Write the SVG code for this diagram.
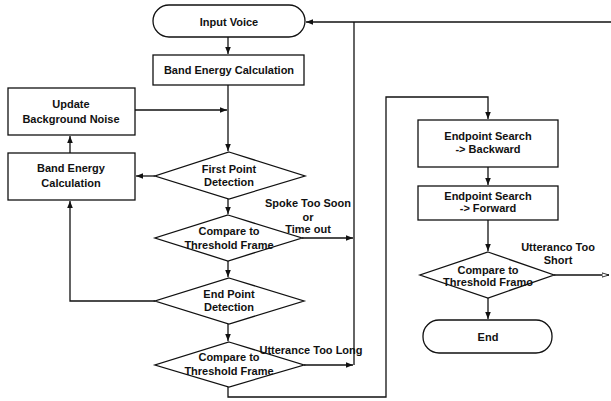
<svg xmlns="http://www.w3.org/2000/svg" width="611" height="401" viewBox="0 0 611 401">
<defs>
<style>
.s{fill:#fff;stroke:#111;stroke-width:1.3}
.c{fill:none;stroke:#111;stroke-width:1.3}
text{font-family:"Liberation Sans",Arial,sans-serif;font-weight:bold;font-size:11px;fill:#111;text-anchor:middle}
</style>
<marker id="a" viewBox="0 0 10 10" refX="10" refY="5" markerWidth="7" markerHeight="7" markerUnits="userSpaceOnUse" orient="auto"><path d="M0,1 L10,5 L0,9 z" fill="#111"/></marker>
<marker id="o" viewBox="0 0 10 10" refX="10" refY="5" markerWidth="7" markerHeight="7" markerUnits="userSpaceOnUse" orient="auto"><path d="M0,2 L10,5 L0,8 z" fill="#fff" stroke="#111" stroke-width="1.2"/></marker>
</defs>
<rect width="611" height="401" fill="#fff"/>
<g id="connectors">
<path class="c" d="M611,22 H306" marker-end="url(#a)"/>
<path class="c" d="M228,37 V54" marker-end="url(#a)"/>
<path class="c" d="M228,85 V151" marker-end="url(#a)"/>
<path class="c" d="M135,110 H227" marker-end="url(#a)"/>
<path class="c" d="M155,176 H136" marker-end="url(#a)"/>
<path class="c" d="M70,153 V136" marker-end="url(#a)"/>
<path class="c" d="M228,199 V214" marker-end="url(#a)"/>
<path class="c" d="M302,238 H353" marker-end="url(#a)"/>
<path class="c" d="M354,22 V365"/>
<path class="c" d="M228,261 V277" marker-end="url(#a)"/>
<path class="c" d="M155,301 H70 V201" marker-end="url(#a)"/>
<path class="c" d="M228,324 V341" marker-end="url(#a)"/>
<path class="c" d="M304,365 H353" marker-end="url(#a)"/>
<path class="c" d="M228,387 V397 H386 V97 H488 V119" marker-end="url(#a)"/>
<path class="c" d="M488,167 V185" marker-end="url(#a)"/>
<path class="c" d="M488,220 V251" marker-end="url(#a)"/>
<path class="c" d="M554,275 H609" marker-end="url(#o)"/>
<path class="c" d="M488,298 V319" marker-end="url(#a)"/>
</g>
<g id="input-voice"><rect class="s" x="153" y="5" width="152" height="32" rx="16"/><text x="229" y="26">Input Voice</text></g>
<g id="band-energy-1"><rect class="s" x="153" y="55" width="151" height="30"/><text x="229" y="74">Band Energy Calculation</text></g>
<g id="update-noise"><rect class="s" x="8" y="88" width="127" height="47"/><text x="71" y="108">Update</text><text x="71" y="123">Background Noise</text></g>
<g id="band-energy-2"><rect class="s" x="8" y="153" width="127" height="47"/><text x="71" y="172">Band Energy</text><text x="71" y="187">Calculation</text></g>
<g id="first-point"><path class="s" d="M229,152 L305,176 L229,199 L155,176 Z"/><text x="229" y="173">First Point</text><text x="229" y="186">Detection</text></g>
<g id="compare-1"><path class="s" d="M228,215 L302,238 L228,261 L155,238 Z"/><text x="229" y="235">Compare to</text><text x="229" y="249">Threshold Frame</text></g>
<g id="label-spoke"><text x="308" y="207">Spoke Too Soon</text><text x="308" y="221">or</text><text x="308" y="233">Time out</text></g>
<g id="end-point"><path class="s" d="M229,278 L304,301 L229,324 L155,301 Z"/><text x="229" y="298">End Point</text><text x="229" y="311">Detection</text></g>
<g id="compare-2"><path class="s" d="M229,342 L304,365 L229,387 L155,365 Z"/><text x="229" y="361">Compare to</text><text x="229" y="375">Threshold Frame</text></g>
<g id="label-long"><text x="311" y="354">Utterance Too Long</text></g>
<g id="search-backward"><rect class="s" x="418" y="120" width="140" height="47"/><text x="488" y="140">Endpoint Search</text><text x="488" y="153">-&gt; Backward</text></g>
<g id="search-forward"><rect class="s" x="418" y="186" width="140" height="34"/><text x="488" y="200">Endpoint Search</text><text x="488" y="212">-&gt; Forward</text></g>
<g id="compare-3"><path class="s" d="M488,252 L554,275 L488,298 L420,275 Z"/><text x="488" y="274">Compare to</text><text x="488" y="286">Threshold Framo</text></g>
<g id="label-short"><text x="558" y="251">Utteranco Too</text><text x="558" y="264">Short</text></g>
<g id="end"><rect class="s" x="423" y="320" width="129" height="33" rx="16"/><text x="488" y="341">End</text></g>
</svg>
